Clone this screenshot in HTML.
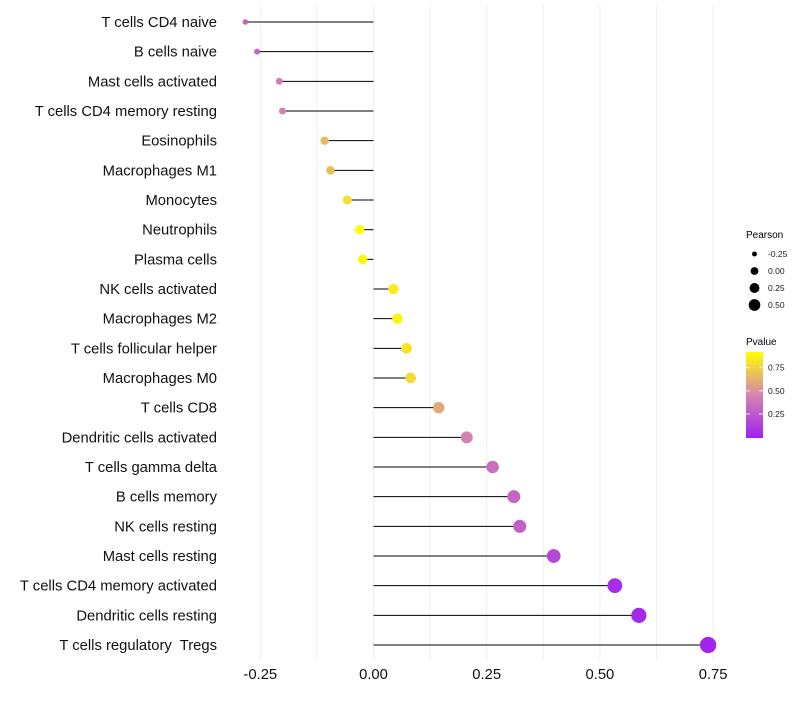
<!DOCTYPE html>
<html><head><meta charset="utf-8"><style>
body{margin:0;background:#fff;font-family:"Liberation Sans",sans-serif}
svg text{font-family:"Liberation Sans",sans-serif;white-space:pre}
</style></head><body>
<svg id="c" width="800" height="700">
<defs><linearGradient id="pg" x1="0" y1="1" x2="0" y2="0">
<stop offset="0" stop-color="#A020F0"/><stop offset="0.5" stop-color="#D585B0"/><stop offset="1" stop-color="#FFFF00"/></linearGradient></defs>
<g id="grid"></g>
<g id="marks"></g>
<g id="ylab"></g>
<g id="xlab"></g>
<g>
<text x="746" y="238" font-size="10">Pearson</text>
<g id="sizeleg"></g>
</g>
<g>
<text x="746" y="345" font-size="10">Pvalue</text>
<rect x="746" y="352" width="17" height="86" fill="url(#pg)"/>
<g id="colleg"></g>
</g>
</svg>
<script>
const cells=["T cells CD4 naive","B cells naive","Mast cells activated","T cells CD4 memory resting","Eosinophils","Macrophages M1","Monocytes","Neutrophils","Plasma cells","NK cells activated","Macrophages M2","T cells follicular helper","Macrophages M0","T cells CD8","Dendritic cells activated","T cells gamma delta","B cells memory","NK cells resting","Mast cells resting","T cells CD4 memory activated","Dendritic cells resting","T cells regulatory  Tregs"];
const pearson=[-0.283,-0.257,-0.208,-0.201,-0.108,-0.095,-0.058,-0.031,-0.024,0.044,0.053,0.073,0.082,0.144,0.206,0.263,0.31,0.323,0.398,0.533,0.586,0.739];
const pvalue=[0.3,0.32,0.42,0.44,0.66,0.68,0.8,0.92,0.9,0.85,0.87,0.82,0.78,0.6,0.45,0.36,0.32,0.3,0.18,0.06,0.04,0.02];
const xTicks=[-0.25,0,0.25,0.5,0.75];
const xTickLabels=["-0.25","0.00","0.25","0.50","0.75"];
const sizeLeg=[-0.25,0,0.25,0.5];
const sizeLegLabels=["-0.25","0.00","0.25","0.50"];
const colLeg=[0.75,0.5,0.25];
const colLegLabels=["0.75","0.50","0.25"];
const NS="http://www.w3.org/2000/svg";
const X=v=>373.5+v*452.8;
const Y=i=>22+i*(623/21);
const R=v=>Math.sqrt(Math.max(4,24+58*v));
function mk(t,a,p){const e=document.createElementNS(NS,t);for(const k in a)e.setAttribute(k,a[k]);p.appendChild(e);return e;}
function lerp(a,b,t){return a.map((x,i)=>Math.round(x+(b[i]-x)*t));}
function col(p){const s=[[0,[160,32,240]],[0.46,[213,133,176]],[0.92,[255,255,0]]];p=Math.max(0,Math.min(0.92,p));
for(let i=0;i<2;i++){if(p<=s[i+1][0]){const c=lerp(s[i][1],s[i+1][1],(p-s[i][0])/(s[i+1][0]-s[i][0]));return`rgb(${c})`;}}return"rgb(255,255,0)";}
const g=document.getElementById('grid'),m=document.getElementById('marks'),yl=document.getElementById('ylab'),xl=document.getElementById('xlab');
for(let v=-0.25;v<=0.751;v+=0.125){const l=mk('line',{x1:X(v),x2:X(v),y1:5,y2:660,stroke:'#f0f0f0','stroke-width':1},g);

}
cells.forEach((c,i)=>{const y=Y(i);
const ln=mk('line',{x1:X(0),x2:X(pearson[i]),y1:y,y2:y,stroke:'#000','stroke-width':1},m);


const d=mk('circle',{cx:X(pearson[i]),cy:y,r:R(pearson[i]),fill:col(pvalue[i])},m);


const t=mk('text',{x:217,y:y+5,'font-size':14.8,'text-anchor':'end',fill:'#111'},yl);t.textContent=c;

});
xTicks.forEach((v,i)=>{const t=mk('text',{x:X(v),y:679,'font-size':14.8,'text-anchor':'middle',fill:'#111'},xl);t.textContent=xTickLabels[i];

});
const sl=document.getElementById('sizeleg');
sizeLeg.forEach((v,i)=>{const y=254+i*17;const c=mk('circle',{cx:754.5,cy:y,r:R(v)*0.8,fill:'#000'},sl);


const t=mk('text',{x:768,y:y+3,'font-size':8.5,fill:'#1a1a1a'},sl);t.textContent=sizeLegLabels[i];

});
const cl=document.getElementById('colleg');
colLeg.forEach((v,i)=>{const y=438-(v+0.01)/0.93*86;
const t=mk('text',{x:768,y:y+3,'font-size':8.5,fill:'#1a1a1a'},cl);t.textContent=colLegLabels[i];


mk('line',{x1:746,x2:750,y1:y,y2:y,stroke:'#fff','stroke-width':0.8},cl);mk('line',{x1:759,x2:763,y1:y,y2:y,stroke:'#fff','stroke-width':0.8},cl);});
</script>
</body></html>
